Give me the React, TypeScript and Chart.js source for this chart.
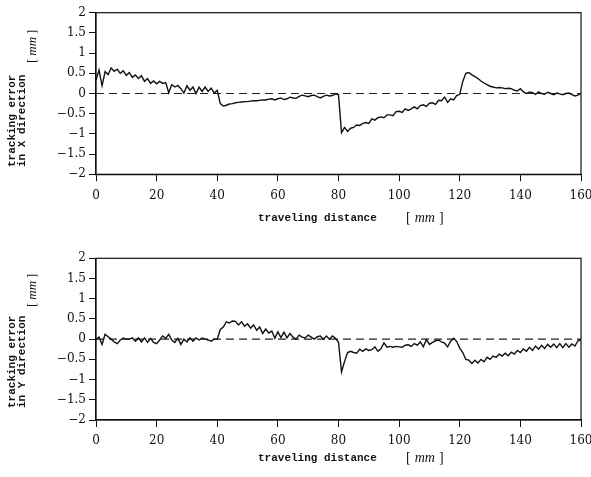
import React, { useEffect, useRef } from "react";
import { Chart, registerables } from "chart.js";

Chart.register(...registerables);

// Sampling of the traveling distance (mm), one sample per millimetre
const SAMPLE_COUNT = 161;
const DISTANCE_MM: number[] = Array.from({ length: SAMPLE_COUNT }, (_, i) => i);

const X_TICKS = [0, 20, 40, 60, 80, 100, 120, 140, 160];
const Y_TICKS = [2, 1.5, 1, 0.5, 0, -0.5, -1, -1.5, -2];

// tracking error in X direction [mm], read at 1 mm steps
const ERROR_X: number[] = [
  0.33, 0.58, 0.19, 0.54, 0.47, 0.63, 0.55, 0.6, 0.5, 0.56,
  0.45, 0.52, 0.4, 0.46, 0.37, 0.44, 0.3, 0.37, 0.25, 0.31,
  0.24, 0.3, 0.25, 0.27, 0.02, 0.22, 0.16, 0.2, 0.12, 0.01,
  0.19, 0.08, 0.16, 0.0, 0.16, 0.05, 0.16, 0.05, 0.13, 0.01,
  0.08, -0.25, -0.31, -0.29, -0.26, -0.25, -0.23, -0.22, -0.21, -0.2,
  -0.2, -0.19, -0.18, -0.18, -0.17, -0.16, -0.16, -0.14, -0.13, -0.16,
  -0.13, -0.11, -0.15, -0.13, -0.09, -0.11, -0.12, -0.07, -0.04, -0.06,
  -0.08, -0.05, -0.04, -0.08, -0.11, -0.07, -0.04, -0.06, -0.05, -0.01,
  -0.03, -0.97, -0.84, -0.94, -0.86, -0.84, -0.78, -0.79, -0.74, -0.72,
  -0.74, -0.63, -0.66, -0.6, -0.58, -0.6, -0.53, -0.53, -0.55, -0.45,
  -0.44, -0.47, -0.38, -0.42, -0.38, -0.33, -0.38, -0.3, -0.28, -0.32,
  -0.24, -0.23, -0.27, -0.17, -0.18, -0.09, -0.22, -0.13, -0.16, -0.05,
  -0.02, 0.3, 0.5, 0.52, 0.46, 0.42, 0.37, 0.31, 0.26, 0.22,
  0.18, 0.16, 0.14, 0.15, 0.14, 0.12, 0.13, 0.12, 0.08, 0.06,
  0.12, 0.04, 0.0, 0.04, 0.02, -0.02, 0.04, 0.0, -0.02, 0.03,
  0.0, -0.03, 0.01, -0.01, -0.03, 0.0, 0.01, -0.03, -0.06, -0.04, 0.0,
];

// tracking error in Y direction [mm], read at 1 mm steps
const ERROR_Y: number[] = [
  0.0, 0.05, -0.13, 0.12, 0.06, 0.0, -0.07, -0.11, -0.02, 0.03,
  0.0, 0.0, 0.03, -0.05, 0.03, -0.07, 0.03, -0.08, 0.02, -0.08,
  -0.11, -0.02, 0.08, 0.02, 0.12, -0.02, -0.08, 0.02, -0.13, 0.0,
  -0.07, 0.03, -0.05, 0.03, -0.02, 0.03, 0.0, -0.02, -0.05, 0.0,
  0.0, 0.24, 0.3, 0.43, 0.4, 0.45, 0.44, 0.35, 0.43, 0.32,
  0.38, 0.27, 0.35, 0.22, 0.3, 0.14, 0.25, 0.15, 0.2, 0.02,
  0.18, 0.04, 0.17, 0.03, 0.14, 0.05, 0.0, 0.1, 0.05, 0.03,
  0.1, 0.05, 0.0, 0.06, 0.08, 0.0, 0.08, 0.0, 0.08, 0.02,
  -0.08, -0.81, -0.55, -0.33, -0.3, -0.33, -0.35, -0.25, -0.3, -0.24,
  -0.28, -0.26, -0.19, -0.3, -0.24, -0.09, -0.2, -0.18, -0.2, -0.18,
  -0.19, -0.2, -0.15, -0.14, -0.18, -0.11, -0.15, -0.07, -0.19, -0.01,
  -0.13, -0.08, -0.04, -0.02, -0.07, -0.1, -0.19, -0.05, 0.02, -0.06,
  -0.22, -0.33, -0.5, -0.52, -0.6, -0.52, -0.59, -0.5, -0.56, -0.45,
  -0.5, -0.42, -0.45, -0.37, -0.42, -0.35, -0.41, -0.32, -0.37, -0.28,
  -0.33, -0.24, -0.3, -0.2, -0.28, -0.17, -0.25, -0.15, -0.23, -0.13,
  -0.2, -0.12, -0.21, -0.11, -0.21, -0.11, -0.2, -0.12, -0.17, -0.04, -0.02,
];

const REFERENCE_LINE = [0, 0];
const REFERENCE_X = [0, 160];

const INK = "#111";
const TITLE_FONT = 'bold 11px "Liberation Mono"';

function fmtTick(v: number): string {
  if (v < 0) return "\u2212" + String(Math.abs(v));
  return String(v);
}

function drawUnit(ctx: CanvasRenderingContext2D, x: number, y: number, size: number, gap: number) {
  ctx.textAlign = "left";
  ctx.textBaseline = "middle";
  ctx.font = `${size}px "Liberation Serif"`;
  ctx.fillText("[", x, y);
  let cx = x + ctx.measureText("[").width + gap;
  ctx.font = `italic ${size}px "Liberation Serif"`;
  ctx.fillText("mm", cx, y);
  cx += ctx.measureText("mm").width + gap;
  ctx.font = `${size}px "Liberation Serif"`;
  ctx.fillText("]", cx, y);
}

type PanelProps = {
  values: number[];
  direction: string;
  height: number;
  plotTop: number;
  plotBottom: number;
  titleBottom: number;
  unitBottom: number;
  xTitleY: number;
};

function Panel(p: PanelProps) {
  const ref = useRef<HTMLCanvasElement | null>(null);
  useEffect(() => {
    const canvas = ref.current;
    if (!canvas) return;
    const decor = {
      id: "decor",
      afterDraw(chart: any) {
        const ctx: CanvasRenderingContext2D = chart.ctx;
        const a = chart.chartArea;
        ctx.save();
        ctx.strokeStyle = INK;
        ctx.lineWidth = 1.2;
        ctx.strokeRect(a.left, a.top, a.right - a.left, a.bottom - a.top);
        ctx.fillStyle = INK;
        // y title (rotated)
        ctx.save();
        ctx.translate(12, p.titleBottom);
        ctx.rotate(-Math.PI / 2);
        ctx.font = TITLE_FONT;
        ctx.textAlign = "left";
        ctx.textBaseline = "middle";
        ctx.fillText("tracking error", 0, 0);
        ctx.restore();
        ctx.save();
        ctx.translate(22.5, p.titleBottom);
        ctx.rotate(-Math.PI / 2);
        ctx.font = TITLE_FONT;
        ctx.textAlign = "left";
        ctx.textBaseline = "middle";
        ctx.fillText(`in ${p.direction} direction`, 0, 0);
        ctx.restore();
        ctx.save();
        ctx.translate(33, p.unitBottom);
        ctx.rotate(-Math.PI / 2);
        drawUnit(ctx, 0, 0, 13, 3);
        ctx.restore();
        // x title
        ctx.font = TITLE_FONT;
        ctx.textAlign = "left";
        ctx.textBaseline = "middle";
        ctx.fillText("traveling distance", 258, p.xTitleY);
        drawUnit(ctx, 406, p.xTitleY, 14, 4);
        ctx.restore();
      },
    };

    const chart = new Chart(canvas, {
      type: "line",
      data: {
        datasets: [
          {
            data: DISTANCE_MM.map((d, i) => ({ x: d, y: p.values[i] })),
            borderColor: INK,
            borderWidth: 1.4,
            pointRadius: 0,
            tension: 0,
            fill: false,
            order: 0,
          },
          {
            data: REFERENCE_X.map((d, i) => ({ x: d, y: REFERENCE_LINE[i] })),
            borderColor: "#222",
            borderWidth: 1.2,
            borderDash: [8, 5],
            pointRadius: 0,
            fill: false,
            order: 1,
          },
        ],
      },
      options: {
        animation: false,
        responsive: false,
        events: [],
        layout: { padding: { top: p.plotTop, right: 10, left: 0, bottom: 0 } },
        plugins: { legend: { display: false }, tooltip: { enabled: false } },
        scales: {
          x: {
            type: "linear",
            min: 0,
            max: 160,
            afterBuildTicks: (s: any) => {
              s.ticks = X_TICKS.map((v) => ({ value: v }));
            },
            afterFit: (s: any) => {
              s.height = p.height - p.plotBottom;
              s.paddingLeft = 0;
              s.paddingRight = 0;
            },
            grid: { display: true, drawOnChartArea: false, drawTicks: true, tickLength: 7, color: INK, lineWidth: 1 },
            border: { display: true, color: INK, width: 1.2 },
            ticks: {
              font: { family: "DejaVu Serif", size: 12 },
              color: INK,
              padding: 7,
              maxRotation: 0,
              autoSkip: false,
              callback: (v: any) => fmtTick(Number(v)),
            },
          },
          y: {
            type: "linear",
            min: -2,
            max: 2,
            afterBuildTicks: (s: any) => {
              s.ticks = Y_TICKS.map((v) => ({ value: v }));
            },
            afterFit: (s: any) => {
              s.width = 96;
              s.paddingTop = 0;
              s.paddingBottom = 0;
            },
            grid: { display: true, drawOnChartArea: false, drawTicks: true, tickLength: 7, color: INK, lineWidth: 1 },
            border: { display: true, color: INK, width: 1.2 },
            ticks: {
              font: { family: "DejaVu Serif", size: 12 },
              color: INK,
              padding: 3,
              autoSkip: false,
              callback: (v: any) => fmtTick(Number(v)),
            },
          },
        },
      },
      plugins: [decor],
    } as any);
    return () => chart.destroy();
  }, []);
  return <canvas ref={ref} width={591} height={p.height} style={{ display: "block", width: 591, height: p.height }} />;
}

export default function App() {
  return (
    <div style={{ position: "absolute", left: 0, top: 0, width: 591, height: 477, background: "#fff" }}>
      <Panel values={ERROR_X} direction="X" height={238} plotTop={12.7} plotBottom={174.3} titleBottom={167} unitBottom={63} xTitleY={218} />
      <Panel values={ERROR_Y} direction="Y" height={239} plotTop={20.3} plotBottom={182} titleBottom={170} unitBottom={69} xTitleY={220} />
    </div>
  );
}
